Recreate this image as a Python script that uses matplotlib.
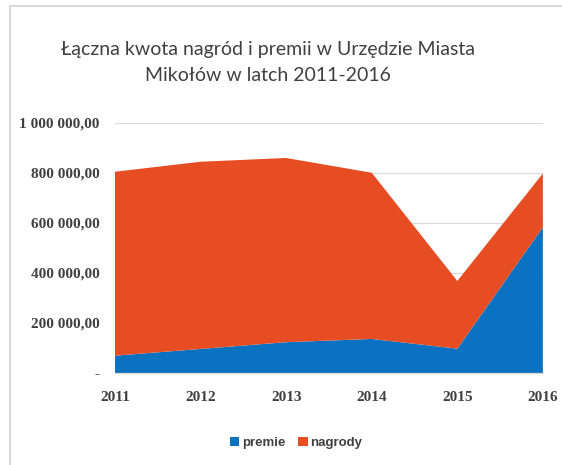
import matplotlib
matplotlib.use("Agg")
import matplotlib.pyplot as plt
from matplotlib.patches import Rectangle

years = [2011, 2012, 2013, 2014, 2015, 2016]
premie = [69000, 96000, 123000, 136000, 97000, 583000]
totals = [805000, 845000, 860000, 801000, 368000, 798000]
nagrody = [t - p for t, p in zip(totals, premie)]
yticks = [0, 200000, 400000, 600000, 800000, 1000000]
ytick_labels = ["-", "200 000,00", "400 000,00", "600 000,00", "800 000,00", "1 000 000,00"]

blue = "#0A72C0"
orange = "#E64D23"

fig = plt.figure(figsize=(5.62, 4.65), dpi=100)
fig.patches.append(Rectangle((0.018, -0.01), 1.0, 0.997, transform=fig.transFigure,
                             fill=False, edgecolor="#d9d9d9", linewidth=1.5))

ax = fig.add_axes([0.2046, 0.198, 0.7614, 0.5375])
ax.stackplot(years, premie, nagrody, colors=[blue, orange], labels=["premie", "nagrody"],
             edgecolor="none", zorder=2)
ax.set_xlim(2011, 2016)
ax.set_ylim(0, 1000000)
ax.set_yticks(yticks)
ax.set_yticklabels(ytick_labels)
ax.set_xticks(years)
ax.set_xticklabels([str(y) for y in years])
ax.grid(axis="y", color="#d9d9d9", linewidth=0.8, zorder=1)
for s in ["top", "right", "left"]:
    ax.spines[s].set_visible(False)
ax.spines["bottom"].set_color("#d9d9d9")
ax.tick_params(axis="both", length=0, labelsize=11, colors="#404040")
ax.tick_params(axis="y", pad=11)
ax.tick_params(axis="x", pad=13)
for lab in ax.get_xticklabels() + ax.get_yticklabels():
    lab.set_fontfamily("Liberation Serif")
    lab.set_fontweight("bold")

fig.text(0.476, 0.866, "Łączna kwota nagród i premii w Urzędzie Miasta\nMikołów w latch 2011-2016",
         ha="center", va="center", fontsize=14, family="Lato", color="#404040", linespacing=1.65)

leg = fig.legend(loc="center", bbox_to_anchor=(0.527, 0.048), ncol=2, frameon=False,
                 handlelength=0.7, handleheight=0.7, handletextpad=0.2, columnspacing=1.0,
                 prop={"family": "Liberation Sans", "weight": "bold", "size": 9.5})
for t in leg.get_texts():
    t.set_color("#404040")

fig.savefig("out.png", dpi=100)
